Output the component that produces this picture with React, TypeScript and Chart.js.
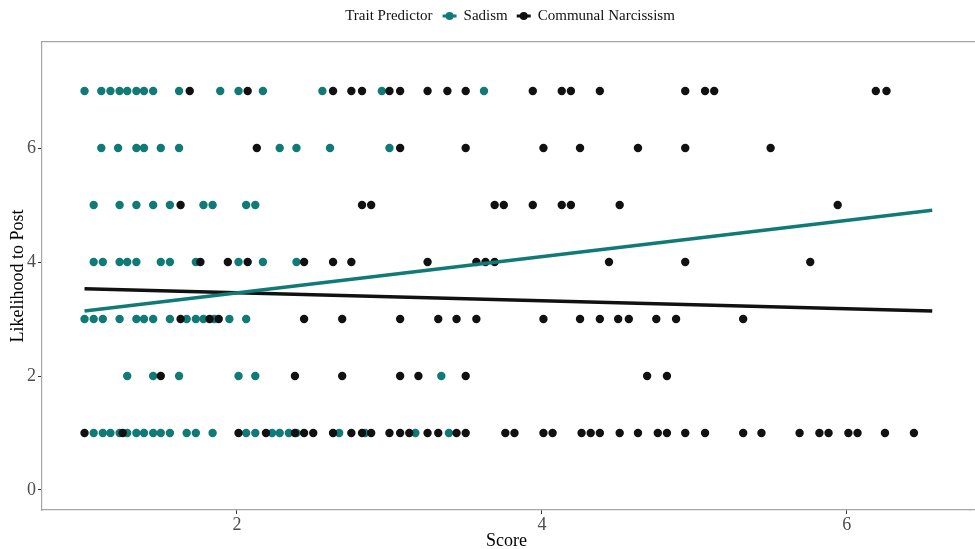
import React, { useEffect, useRef } from "react";
import { Chart, registerables } from "chart.js";

Chart.register(...registerables);

const FONT = '"Liberation Serif", "Times New Roman", serif';

const seriesNames = ["Sadism", "Communal Narcissism"];
const seriesColors = ["#107a77", "#111111"];
const legendTitle = "Trait Predictor";
const xTitle = "Score";
const yTitle = "Likelihood to Post";
const xTicks = [2, 4, 6];
const yTicks = [0, 2, 4, 6];

const likelihoodLevels = [7, 6, 5, 4, 3, 2, 1];

const sadismScoresByLevel = [
  [1.0, 1.11, 1.17, 1.23, 1.28, 1.34, 1.39, 1.45, 1.62, 1.89, 2.01, 2.17, 2.56, 2.95, 3.62],
  [1.11, 1.22, 1.34, 1.39, 1.5, 1.62, 2.28, 2.39, 2.61, 3.0],
  [1.06, 1.23, 1.34, 1.45, 1.56, 1.78, 1.84, 2.06, 2.12],
  [1.06, 1.12, 1.23, 1.28, 1.34, 1.5, 1.56, 1.73, 2.01, 2.17, 2.39],
  [1.0, 1.06, 1.12, 1.23, 1.34, 1.39, 1.45, 1.56, 1.67, 1.73, 1.78, 1.85, 1.95, 2.06],
  [1.28, 1.45, 1.62, 2.01, 2.12, 3.34],
  [1.06, 1.12, 1.17, 1.23, 1.28, 1.34, 1.39, 1.45, 1.5, 1.56, 1.67, 1.73, 1.84, 2.06, 2.12, 2.23, 2.28, 2.34, 2.39, 2.67, 2.84, 3.17, 3.39],
];

const communalScoresByLevel = [
  [1.69, 2.07, 2.63, 2.75, 2.82, 3.0, 3.07, 3.25, 3.38, 3.5, 3.94, 4.13, 4.19, 4.38, 4.94, 5.07, 5.13, 6.19, 6.26],
  [2.13, 3.07, 3.5, 4.01, 4.25, 4.63, 4.94, 5.5],
  [1.63, 2.82, 2.88, 3.69, 3.75, 3.94, 4.13, 4.19, 4.51, 5.94],
  [1.76, 1.94, 2.07, 2.44, 2.63, 2.75, 3.25, 3.57, 3.63, 3.69, 4.44, 4.94, 5.76],
  [1.63, 1.82, 1.88, 2.44, 2.69, 3.07, 3.32, 3.44, 3.57, 4.01, 4.25, 4.38, 4.5, 4.57, 4.75, 4.88, 5.32],
  [1.5, 2.38, 2.69, 3.07, 3.19, 3.5, 4.69, 4.82],
  [1.0, 1.25, 2.01, 2.19, 2.38, 2.44, 2.5, 2.63, 2.75, 2.82, 2.88, 3.0, 3.07, 3.13, 3.25, 3.32, 3.44, 3.5, 3.76, 3.82, 4.01, 4.07, 4.26, 4.32, 4.38, 4.51, 4.63, 4.76, 4.82, 4.94, 5.07, 5.32, 5.44, 5.69, 5.82, 5.88, 6.01, 6.07, 6.25, 6.44],
];

const fitX = [1.0, 6.56];
const sadismFitY = [3.14, 4.91];
const communalFitY = [3.53, 3.14];

const toPoints = (byLevel: number[][]) =>
  byLevel.flatMap((xs, i) => xs.map((x) => ({ x, y: likelihoodLevels[i] })));

const frameAndLegend = {
  id: "frameAndLegend",
  afterDraw(chart: any) {
    const { ctx, chartArea } = chart;
    ctx.save();
    // frame lines (top, and bottom extension to the canvas edge)
    const lw = 1.2;
    const align = (p: number) => Math.round(p - lw / 2) + lw / 2;
    ctx.strokeStyle = "#a6a6a6";
    ctx.lineWidth = lw;
    ctx.beginPath();
    ctx.moveTo(chartArea.left, align(chartArea.top));
    ctx.lineTo(chart.width, align(chartArea.top));
    ctx.moveTo(chartArea.right - 2, align(chartArea.bottom));
    ctx.lineTo(chart.width, align(chartArea.bottom));
    ctx.stroke();

    // legend
    ctx.font = `15px ${FONT}`;
    ctx.textBaseline = "middle";
    ctx.fillStyle = "#111";
    const y = 16;
    const keyW = 14;
    const gapAfterTitle = 10;
    const gapKeyText = 7;
    const gapItems = 9;
    const titleW = ctx.measureText(legendTitle).width;
    const labelWs = seriesNames.map((n) => ctx.measureText(n).width);
    const total =
      titleW + gapAfterTitle +
      labelWs.reduce((a, w) => a + keyW + gapKeyText + w, 0) + gapItems * (seriesNames.length - 1);
    let x = 510 - total / 2;
    ctx.textAlign = "left";
    ctx.fillText(legendTitle, x, y);
    x += titleW + gapAfterTitle;
    seriesNames.forEach((name, i) => {
      ctx.strokeStyle = seriesColors[i];
      ctx.fillStyle = seriesColors[i];
      ctx.lineWidth = 3;
      ctx.beginPath();
      ctx.moveTo(x, y);
      ctx.lineTo(x + keyW, y);
      ctx.stroke();
      ctx.beginPath();
      ctx.arc(x + keyW / 2, y, 4, 0, Math.PI * 2);
      ctx.fill();
      x += keyW + gapKeyText;
      ctx.fillStyle = "#111";
      ctx.fillText(name, x, y);
      x += labelWs[i] + gapItems;
    });
    ctx.restore();
  },
};

export default function App() {
  const ref = useRef<HTMLCanvasElement>(null);

  useEffect(() => {
    document.body.style.margin = "0";
    const canvas = ref.current;
    if (!canvas) return;
    const chart = new Chart(canvas, {
      type: "scatter",
      data: {
        datasets: [
          {
            label: seriesNames[0] + " fit",
            data: fitX.map((x, i) => ({ x, y: sadismFitY[i] })),
            showLine: true,
            borderColor: seriesColors[0],
            borderWidth: 3.5,
            pointRadius: 0,
            order: 0,
          },
          {
            label: seriesNames[1] + " fit",
            data: fitX.map((x, i) => ({ x, y: communalFitY[i] })),
            showLine: true,
            borderColor: seriesColors[1],
            borderWidth: 3.5,
            pointRadius: 0,
            order: 0,
          },
          {
            label: seriesNames[1],
            data: toPoints(communalScoresByLevel),
            backgroundColor: seriesColors[1],
            borderWidth: 0,
            pointRadius: 4.2,
            order: 1,
          },
          {
            label: seriesNames[0],
            data: toPoints(sadismScoresByLevel),
            backgroundColor: seriesColors[0],
            borderWidth: 0,
            pointRadius: 4.2,
            order: 2,
          },
        ],
      },
      options: {
        animation: false,
        responsive: false,
        devicePixelRatio: 1,
        layout: { padding: { top: 42, right: 0, left: 0, bottom: 0 } },
        plugins: {
          legend: { display: false },
          tooltip: { enabled: false },
        },
        scales: {
          x: {
            type: "linear",
            min: 0.721,
            max: 6.813,
            afterBuildTicks: (s: any) => {
              s.ticks = xTicks.map((v) => ({ value: v }));
            },
            afterFit: (s: any) => {
              s.height = 39;
            },
            ticks: {
              font: { family: FONT, size: 18 },
              color: "#4d4d4d",
              padding: 0,
              maxRotation: 0,
            },
            grid: {
              display: true,
              drawOnChartArea: false,
              tickLength: 4,
              color: "#333",
            },
            border: { color: "#a6a6a6", width: 1.2 },
            title: {
              display: true,
              text: xTitle,
              font: { family: FONT, size: 18 },
              color: "#000",
              padding: { top: 0, bottom: -3 },
            },
          },
          y: {
            type: "linear",
            min: -0.351,
            max: 7.86,
            afterBuildTicks: (s: any) => {
              s.ticks = yTicks.map((v) => ({ value: v }));
            },
            afterFit: (s: any) => {
              s.width = 42;
            },
            ticks: {
              font: { family: FONT, size: 18 },
              color: "#4d4d4d",
              padding: 2,
            },
            grid: {
              display: true,
              drawOnChartArea: false,
              tickLength: 4,
              color: "#333",
            },
            border: { color: "#a6a6a6", width: 1.2 },
            title: {
              display: true,
              text: yTitle,
              font: { family: FONT, size: 18 },
              color: "#000",
              padding: { top: 7, bottom: 0 },
            },
          },
        },
      },
      plugins: [frameAndLegend],
    });
    return () => chart.destroy();
  }, []);

  return (
    <div style={{ width: 975, height: 549 }}>
      <canvas ref={ref} width={975} height={549} style={{ display: "block" }} />
    </div>
  );
}
